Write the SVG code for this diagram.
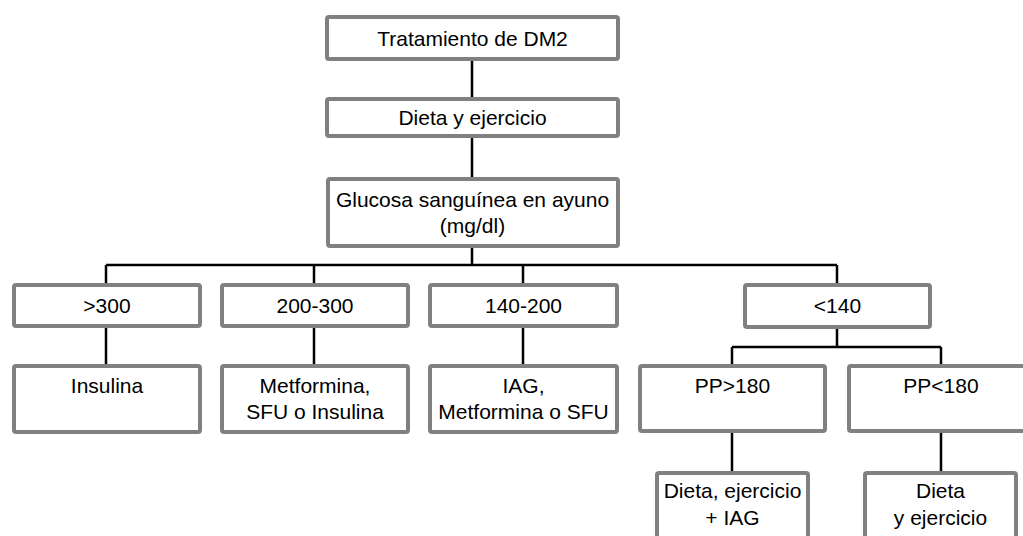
<svg xmlns="http://www.w3.org/2000/svg" width="1023" height="536" viewBox="0 0 1023 536">
<style>
.box{fill:#fff;stroke:#808080;stroke-width:4}
.t{font-family:"Liberation Sans",Arial,sans-serif;font-size:21px;fill:#000;text-anchor:middle}
.c{stroke:#000;stroke-width:2.5;fill:none}
</style>
<rect width="1023" height="536" fill="#fff"/>
<g id="connectors">
<path class="c" d="M472 61V97M472 138V177M472 248V265M106 265H837M106 265V283M314 265V283M523 265V283M837 265V283"/>
<path class="c" d="M106 328V364M314 328V364M523 328V364"/>
<path class="c" d="M837 329V347M732 347H941M732 347V364M941 347V364M732 433V471M941 433V471"/>
</g>
<g id="n1"><rect class="box" x="327" y="17" width="291" height="42" rx="2"/><text class="t" x="472.5" y="46">Tratamiento de DM2</text></g>
<g id="n2"><rect class="box" x="327" y="99" width="291" height="37" rx="2"/><text class="t" x="472.5" y="125">Dieta y ejercicio</text></g>
<g id="n3"><rect class="box" x="328" y="179" width="290" height="67" rx="2"/><text class="t" x="472.5" y="207">Glucosa sanguínea en ayuno</text><text class="t" x="472.5" y="233">(mg/dl)</text></g>
<g id="n4"><rect class="box" x="14" y="285" width="186" height="41" rx="2"/><text class="t" x="107" y="313">&gt;300</text></g>
<g id="n5"><rect class="box" x="222" y="285" width="186" height="41" rx="2"/><text class="t" x="315" y="313">200-300</text></g>
<g id="n6"><rect class="box" x="430" y="285" width="187" height="41" rx="2"/><text class="t" x="523.5" y="313">140-200</text></g>
<g id="n7"><rect class="box" x="745" y="285" width="185" height="42" rx="2"/><text class="t" x="837.5" y="313">&lt;140</text></g>
<g id="n8"><rect class="box" x="14" y="366" width="186" height="66" rx="2"/><text class="t" x="107" y="393">Insulina</text></g>
<g id="n9"><rect class="box" x="222" y="366" width="186" height="66" rx="2"/><text class="t" x="315" y="393">Metformina,</text><text class="t" x="315" y="419">SFU o Insulina</text></g>
<g id="n10"><rect class="box" x="430" y="366" width="187" height="66" rx="2"/><text class="t" x="523.5" y="393">IAG,</text><text class="t" x="523.5" y="419">Metformina o SFU</text></g>
<g id="n11"><rect class="box" x="640" y="366" width="185" height="65" rx="2"/><text class="t" x="732.5" y="393">PP&gt;180</text></g>
<g id="n12"><rect class="box" x="849" y="366" width="185" height="65" rx="2"/><text class="t" x="941" y="393">PP&lt;180</text></g>
<g id="n13"><rect class="box" x="657" y="473" width="151" height="80" rx="2"/><text class="t" x="732.5" y="498">Dieta, ejercicio</text><text class="t" x="732.5" y="525">+ IAG</text></g>
<g id="n14"><rect class="box" x="865" y="473" width="151" height="80" rx="2"/><text class="t" x="940.5" y="498">Dieta</text><text class="t" x="940.5" y="525">y ejercicio</text></g>
</svg>
